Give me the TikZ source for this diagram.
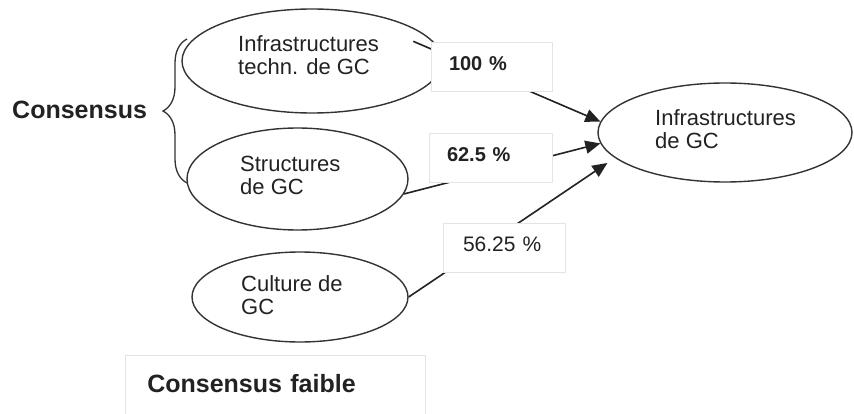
\documentclass[tikz,border=0pt]{standalone}
\usepackage{fontspec}
\setmainfont{Liberation Sans}
\usetikzlibrary{arrows.meta,calc,decorations.pathreplacing,shapes.geometric}

\definecolor{ink}{HTML}{222222}
\definecolor{elline}{HTML}{333333}
\definecolor{boxline}{HTML}{E4E4E4}

\begin{document}
\begin{tikzpicture}[x=1pt,y=-1pt,
  ell/.style={ellipse, draw=elline, line width=1.4pt, inner sep=0pt},
  etext/.style={font=\fontsize{22}{23}\selectfont, align=left, inner sep=0pt, anchor=west, text=ink},
  pbox/.style={draw=boxline, line width=0.6pt, fill=white, minimum height=49pt, inner xsep=18pt, inner ysep=0pt, align=left, text depth=6pt, text=ink},
  conn/.style={draw=ink, line width=1.6pt, -{Triangle[length=15pt,width=13pt]}},
  bigbold/.style={font=\bfseries\fontsize{25}{30}\selectfont, text=ink}
  ]
\useasboundingbox (0,0) rectangle (854,414);
\fill[white] (0,0) rectangle (854,414);

% ellipses
\node[ell, minimum width=260pt, minimum height=104pt] (e1) at (312,61) {};
\node[ell, minimum width=221pt, minimum height=102pt] (e2) at (297.5,179) {};
\node[ell, minimum width=216pt, minimum height=90pt] (e3) at (300,297) {};
\node[ell, minimum width=254pt, minimum height=99pt] (e4) at (725,132.5) {};

% ellipse texts
\node[etext] (t1) at ([xshift=-74pt,yshift=6pt]e1.center) {Infrastructures\\techn. de GC};
\node[etext] (t2) at ([xshift=-57.5pt,yshift=4pt]e2.center) {Structures\\de GC};
\node[etext] (t3) at ([xshift=-59pt,yshift=2pt]e3.center) {Culture de\\GC};
\node[etext] (t4) at ([xshift=-70pt,yshift=3.5pt]e4.center) {Infrastructures\\de GC};

% connectors
\draw[conn] ($(e1.center)!0.86!(e1.11)$) -- (e4.175);
\draw[conn] (e2.-8) -- (e4.185);
\draw[conn, shorten >=9pt] (e3.east) -- (e4.193);

% percentage boxes
\node[pbox, text width=85pt, font=\bfseries\fontsize{20}{24}\selectfont] (b1) at (491.5,66.5) {100 \%};
\node[pbox, text width=87pt, font=\bfseries\fontsize{20}{24}\selectfont] (b2) at (490.5,157.5) {62.5 \%};
\node[pbox, inner xsep=20pt, text width=82pt, font=\fontsize{21}{24}\selectfont] (b3) at (504,247.5) {56.25 \%};

% consensus brace and labels
\draw[elline, line width=1.3pt, decorate, decoration={brace, amplitude=24pt}] (187,183) -- (187,39);
\node[bigbold, anchor=base west, inner sep=0pt] (cons) at (12,119) {Consensus};
\node[bigbold, draw=boxline, line width=0.6pt, anchor=base west, text width=256pt, inner xsep=22pt, inner ysep=18pt, text height=19pt, text depth=40pt, align=left] (cf) at (125,392) {Consensus faible};
\end{tikzpicture}
\end{document}
